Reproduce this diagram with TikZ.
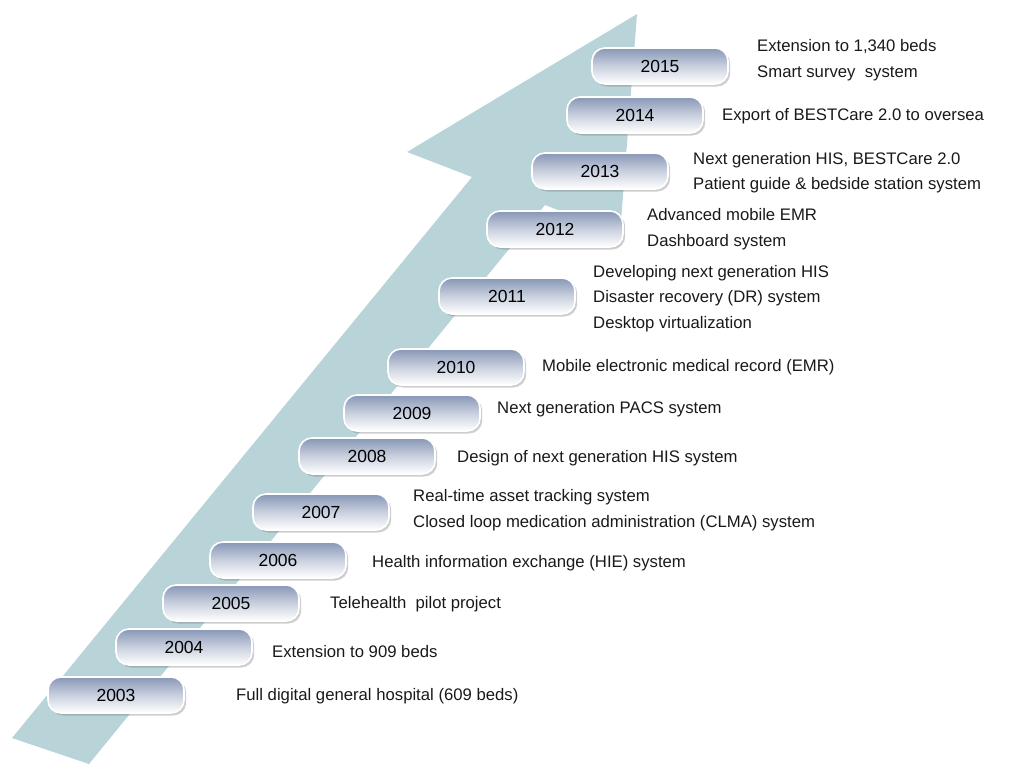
\documentclass[tikz,border=0pt]{standalone}
\usepackage{fontspec}
\setmainfont{Liberation Sans}
\usetikzlibrary{shadows}
\definecolor{arrowteal}{HTML}{B8D4D9}
\definecolor{boxtop}{HTML}{8797B6}
\definecolor{boxmid}{HTML}{C9D0DE}
\tikzset{
  yearbox/.style={rectangle, rounded corners=13pt, minimum width=136pt, minimum height=36pt,
    draw=white, line width=1.6pt, top color=boxtop, bottom color=white, middle color=boxmid,
    drop shadow={shadow xshift=2.2pt, shadow yshift=-2.5pt, opacity=0.35, fill=black!55},
    font=\fontsize{17.5}{20}\selectfont, inner sep=0pt},
  desc/.style={anchor=west, align=left, inner sep=0pt, font=\fontsize{16.7}{25.5}\selectfont, text=black!90}
}
\begin{document}
\begin{tikzpicture}[x=1pt,y=-1pt]
\useasboundingbox (0,0) rectangle (1016,764);
% big arrow
\fill[arrowteal] (637,14) -- (620,234) -- (545,205) -- (89,764) -- (12,738) -- (472,177) -- (407,152) -- cycle;
% year boxes
\node[yearbox] (y2003) at (116,695) {2003};
\node[yearbox] (y2004) at (184,647) {2004};
\node[yearbox] (y2005) at (231,603) {2005};
\node[yearbox] (y2006) at (278,560) {2006};
\node[yearbox] (y2007) at (321,512) {2007};
\node[yearbox] (y2008) at (367,456) {2008};
\node[yearbox] (y2009) at (412,413) {2009};
\node[yearbox] (y2010) at (456,367) {2010};
\node[yearbox] (y2011) at (507,296) {2011};
\node[yearbox] (y2012) at (555,229) {2012};
\node[yearbox] (y2013) at (600,171) {2013};
\node[yearbox] (y2014) at (635,115) {2014};
\node[yearbox] (y2015) at (660,66) {2015};
% descriptions
\node[desc] (d2015) at (757,60) {Extension to 1,340 beds\\Smart survey\ \ system};
\node[desc] (d2014) at (722,116) {Export of BESTCare 2.0 to oversea};
\node[desc] (d2013) at (693,172.5) {Next generation HIS,\ BESTCare 2.0\\Patient guide \& bedside station system};
\node[desc] (d2012) at (647,229) {Advanced mobile EMR\\Dashboard system};
\node[desc] (d2011) at (593,298.5) {Developing next generation HIS\\Disaster recovery (DR) system\\Desktop virtualization};
\node[desc] (d2010) at (542,367) {Mobile electronic medical record (EMR)};
\node[desc] (d2009) at (497,409) {Next generation PACS system};
\node[desc] (d2008) at (457,458) {Design of next generation HIS system};
\node[desc] (d2007) at (413,510) {Real-time asset tracking system\\Closed loop medication administration (CLMA) system};
\node[desc] (d2006) at (372,563) {Health information exchange (HIE) system};
\node[desc] (d2005) at (330,604) {Telehealth\ \ pilot project};
\node[desc] (d2004) at (272,652) {Extension to 909 beds};
\node[desc] (d2003) at (236,696) {Full digital general hospital (609 beds)};
\end{tikzpicture}
\end{document}
